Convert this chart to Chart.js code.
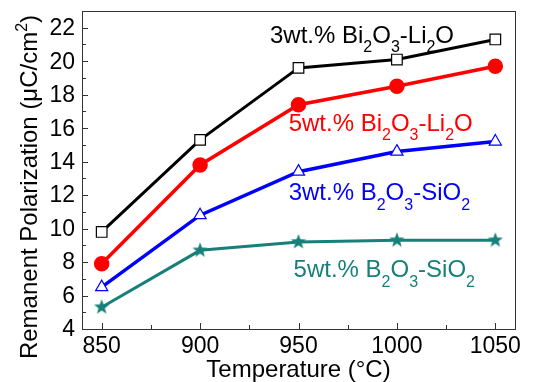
<!DOCTYPE html>
<html>
<head>
<meta charset="utf-8">
<script src="https://cdn.jsdelivr.net/npm/chart.js@4.4.0/dist/chart.umd.min.js"></script>
<style>
  html, body { margin: 0; padding: 0; background: #fff; }
  #wrap { width: 533px; height: 382px; }
</style>
</head>
<body>
<div id="wrap"><canvas id="myChart"></canvas></div>
<script>
// data
var temps = [850, 900, 950, 1000, 1050];
var bi3 = [9.8, 15.3, 19.6, 20.1, 21.3];
var bi5 = [7.9, 13.8, 17.4, 18.5, 19.7];
var b3 = [6.5, 10.8, 13.4, 14.6, 15.2];
var b5 = [5.3, 8.7, 9.2, 9.3, 9.3];
var xTicks = [850, 875, 900, 925, 950, 975, 1000, 1025, 1050];
var yTicks = [4, 5, 6, 7, 8, 9, 10, 11, 12, 13, 14, 15, 16, 17, 18, 19, 20, 21, 22, 23];
var seriesNames = ['3wt.% Bi_2O_3-Li_2O', '5wt.% Bi_2O_3-Li_2O', '3wt.% B_2O_3-SiO_2', '5wt.% B_2O_3-SiO_2'];
var xTitle = 'Temperature (\u00B0C)';
var yTitle = 'Remanent Polarization (\u03BCC/cm^2)';

var FONT = '"Liberation Sans", Arial, sans-serif';
var teal = '#17807a';

function pts(ys) {
    var out = [];
    for (var i = 0; i < temps.length; i++) {
        out.push({x: temps[i], y: ys[i]});
    }
    return out;
}

// filled five point star for the last series
function makeStar(r, color) {
    var c = document.createElement('canvas');
    c.width = r * 2 + 2;
    c.height = r * 2 + 2;
    var g = c.getContext('2d');
    g.fillStyle = color;
    g.beginPath();
    for (var i = 0; i < 10; i++) {
        var rad = (i % 2 == 0) ? r : r * 0.42;
        var a = -Math.PI / 2 + i * Math.PI / 5;
        var px = r + 1 + rad * Math.cos(a);
        var py = r + 1 + rad * Math.sin(a);
        if (i == 0) g.moveTo(px, py); else g.lineTo(px, py);
    }
    g.closePath();
    g.fill();
    return c;
}

// text with _x subscripts and ^x superscripts
function richText(ctx, str, x, y, size, color, align) {
    var parts = [];
    for (var i = 0; i < str.length; i++) {
        var ch = str[i];
        if ((ch == '_' || ch == '^') && i + 1 < str.length) {
            parts.push({t: str[i + 1], mode: ch});
            i++;
        } else {
            if (parts.length && parts[parts.length - 1].mode == '') parts[parts.length - 1].t += ch;
            else parts.push({t: ch, mode: ''});
        }
    }
    var small = Math.round(size * 0.66);
    var total = 0;
    parts.forEach(function (p) {
        ctx.font = (p.mode ? small : size) + 'px ' + FONT;
        p.w = ctx.measureText(p.t).width;
        total += p.w;
    });
    var cx = x;
    if (align == 'center') cx = x - total / 2;
    if (align == 'right') cx = x - total;
    ctx.fillStyle = color;
    ctx.textAlign = 'left';
    ctx.textBaseline = 'alphabetic';
    parts.forEach(function (p) {
        ctx.font = (p.mode ? small : size) + 'px ' + FONT;
        var dy = 0;
        if (p.mode == '_') dy = size * 0.4;
        if (p.mode == '^') dy = -size * 0.42;
        ctx.fillText(p.t, cx, y + dy);
        cx += p.w;
    });
}

var labelSpots = [
    {x: 935.5, y: 21.1, color: '#000000'},
    {x: 945, y: 15.85, color: '#ff0000'},
    {x: 945, y: 11.7, color: '#0000ff'},
    {x: 947.5, y: 7.1, color: teal}
];

var extras = {
    id: 'extras',
    afterDraw: function (chart) {
        var ctx = chart.ctx;
        var a = chart.chartArea;
        var xs = chart.scales.x, ys = chart.scales.y;
        ctx.save();
        // frame
        ctx.strokeStyle = '#333';
        ctx.lineWidth = 1;
        ctx.strokeRect(a.left + 0.5, a.top + 0.5, a.right - a.left, a.bottom - a.top);
        // inward ticks
        ctx.beginPath();
        xTicks.forEach(function (v) {
            var len = (v % 50 == 0) ? 6 : 4;
            var px = Math.round(xs.getPixelForValue(v)) + 0.5;
            ctx.moveTo(px, a.bottom);
            ctx.lineTo(px, a.bottom - len);
        });
        yTicks.forEach(function (v) {
            var len = (v % 2 == 0) ? 6 : 4;
            var py = Math.round(ys.getPixelForValue(v)) + 0.5;
            ctx.moveTo(a.left, py);
            ctx.lineTo(a.left + len, py);
        });
        ctx.stroke();
        // tick labels
        ctx.font = '23px ' + FONT;
        ctx.fillStyle = '#000';
        ctx.textAlign = 'center';
        ctx.textBaseline = 'middle';
        xTicks.forEach(function (v) {
            if (v % 50 == 0) ctx.fillText(String(v), xs.getPixelForValue(v), 347);
        });
        ctx.textAlign = 'right';
        yTicks.forEach(function (v) {
            if (v % 2 == 0) ctx.fillText(String(v), 75, ys.getPixelForValue(v) + 1);
        });
        // series labels
        for (var i = 0; i < seriesNames.length; i++) {
            var s = labelSpots[i];
            richText(ctx, seriesNames[i], xs.getPixelForValue(s.x), ys.getPixelForValue(s.y), 24, s.color, 'left');
        }
        // axis titles
        richText(ctx, xTitle, (a.left + a.right) / 2, 377, 24, '#000', 'center');
        ctx.translate(37, 187);
        ctx.rotate(-Math.PI / 2);
        richText(ctx, yTitle, 0, 0, 24, '#000', 'center');
        ctx.restore();
    }
};

const ctx = document.getElementById('myChart').getContext('2d');
const myChart = new Chart(ctx, {
    type: 'scatter',
    data: {
        datasets: [{
            label: seriesNames[0],
            data: pts(bi3),
            showLine: true,
            borderColor: '#000000',
            borderWidth: 3,
            pointStyle: 'rect',
            pointRadius: 7.5,
            pointBackgroundColor: '#ffffff',
            pointBorderColor: '#000000',
            pointBorderWidth: 1.2
        }, {
            label: seriesNames[1],
            data: pts(bi5),
            showLine: true,
            borderColor: '#ff0000',
            borderWidth: 3.5,
            pointStyle: 'circle',
            pointRadius: 6,
            pointBackgroundColor: '#ff0000',
            pointBorderColor: '#ff0000'
        }, {
            label: seriesNames[2],
            data: pts(b3),
            showLine: true,
            borderColor: '#0000ff',
            borderWidth: 3.5,
            pointStyle: 'triangle',
            pointRadius: 7,
            pointBackgroundColor: '#ffffff',
            pointBorderColor: '#0000ff',
            pointBorderWidth: 1.2
        }, {
            label: seriesNames[3],
            data: pts(b5),
            showLine: true,
            borderColor: teal,
            borderWidth: 3,
            pointStyle: makeStar(8, teal),
            pointRadius: 8
        }]
    },
    options: {
        responsive: true,
        maintainAspectRatio: false,
        animation: false,
        layout: { padding: { left: 0, top: 10, right: 18, bottom: 0 } },
        plugins: {
            legend: { display: false },
            tooltip: { enabled: false }
        },
        scales: {
            x: {
                type: 'linear',
                min: 840,
                max: 1060,
                grid: { display: false, drawTicks: false },
                border: { display: false },
                ticks: { display: false },
                afterFit: function (s) { s.height = 53; }
            },
            y: {
                min: 4,
                max: 23,
                grid: { display: false, drawTicks: false },
                border: { display: false },
                ticks: { display: false },
                afterFit: function (s) { s.width = 82; }
            }
        }
    },
    plugins: [extras]
});
</script>
</body>
</html>
